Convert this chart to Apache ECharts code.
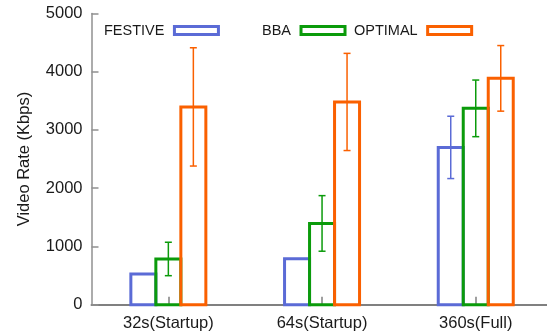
<!DOCTYPE html>
<html><head><meta charset="utf-8">
<script src="https://cdn.jsdelivr.net/npm/echarts@6/dist/echarts.min.js"></script>
<style>html,body{margin:0;padding:0;background:#fff}#c{width:547px;height:332px}</style>
</head><body><div id="c"></div>
<script>
var categories = ['32s(Startup)', '64s(Startup)', '360s(Full)'];
var seriesNames = ['FESTIVE', 'BBA', 'OPTIMAL'];
var festive = [525, 790, 2700];
var bba = [785, 1395, 3370];
var optimal = [3395, 3480, 3885];
var festiveErr = [null, null, 535];
var bbaErr = [287, 477, 486];
var optimalErr = [1015, 834, 563];
var yTicks = [0, 1000, 2000, 3000, 4000, 5000];

var colors = ['#5b6bd6', '#0b9b0b', '#fa6000'];
var values = [festive, bba, optimal];
var errs = [festiveErr, bbaErr, optimalErr];
var BW = 25;
var FONT = '"Liberation Sans", Arial, sans-serif';
var catIdx = categories.map(function (c, k) { return k; });

var chart = echarts.init(document.getElementById('c'), null, {renderer: 'canvas'});
var series = [];
values.forEach(function (vals, i) {
  series.push({
    name: seriesNames[i], type: 'custom', z: 2 + i, silent: true,
    itemStyle: {color: 'rgba(255,255,255,0)', borderColor: colors[i], borderWidth: 3},
    data: vals.map(function (v, k) { return [k, v]; }),
    renderItem: function (params, api) {
      var top = api.coord([api.value(0), api.value(1)]);
      var base = api.coord([api.value(0), 0]);
      var x = top[0] + (i - 1) * BW - BW / 2;
      return {type: 'rect', shape: {x: x, y: top[1], width: BW, height: base[1] - top[1]},
        style: {fill: null, stroke: colors[i], lineWidth: 3}};
    }
  });
});
values.forEach(function (vals, i) {
  var d = [];
  vals.forEach(function (v, k) {
    if (errs[i][k] != null) d.push([k, v - errs[i][k], v + errs[i][k]]);
  });
  series.push({
    type: 'custom', z: 10, silent: true, data: d,
    renderItem: function (params, api) {
      var lo = api.coord([api.value(0), api.value(1)]);
      var hi = api.coord([api.value(0), api.value(2)]);
      var x = lo[0] + (i - 1) * BW;
      var h = 3.5;
      var st = {stroke: colors[i], lineWidth: 1.5, fill: null};
      return {type: 'group', children: [
        {type: 'line', shape: {x1: x, y1: lo[1], x2: x, y2: hi[1]}, style: st},
        {type: 'line', shape: {x1: x - h, y1: lo[1], x2: x + h, y2: lo[1]}, style: st},
        {type: 'line', shape: {x1: x - h, y1: hi[1], x2: x + h, y2: hi[1]}, style: st}
      ]};
    }
  });
});

function mkLegend(name, idx, left) {
  return {
    data: [{name: name, icon: 'rect', itemStyle: {color: 'rgba(255,255,255,0)', borderColor: colors[idx], borderWidth: 3}}],
    left: left, top: 23, padding: 0, align: 'right', itemWidth: 44, itemHeight: 8,
    selectedMode: false,
    textStyle: {fontFamily: FONT, fontSize: 14.5, color: '#1a1a1a', padding: [0, 5, 0, 0]}
  };
}

chart.setOption({
  animation: false,
  backgroundColor: '#fff',
  color: colors,
  legend: [mkLegend('FESTIVE', 0, 104), mkLegend('BBA', 1, 262), mkLegend('OPTIMAL', 2, 354)],
  grid: {left: 91.5, right: 0, top: 13.4, bottom: 27.3, containLabel: false},
  xAxis: {
    type: 'value', min: -0.5, max: 2.4636,
    axisLine: {show: true, onZero: false, lineStyle: {color: '#808080', width: 2}},
    axisTick: {show: true, customValues: catIdx, inside: true, length: 8, lineStyle: {color: '#808080', width: 1.5}},
    axisLabel: {customValues: catIdx, fontFamily: FONT, fontSize: 16.5, color: '#1a1a1a', margin: 10,
      formatter: function (v) { return categories[Math.round(v)]; }},
    splitLine: {show: false}
  },
  yAxis: {
    type: 'value', min: yTicks[0], max: yTicks[yTicks.length - 1], interval: 1000,
    name: 'Video Rate (Kbps)', nameLocation: 'middle', nameGap: 59, nameRotate: 90,
    nameTextStyle: {fontFamily: FONT, fontSize: 16.5, color: '#1a1a1a'},
    axisLine: {show: true, onZero: false, lineStyle: {color: '#909090', width: 1.5}},
    axisTick: {show: true, inside: true, length: 7, lineStyle: {color: '#909090', width: 1.5}},
    axisLabel: {fontFamily: FONT, fontSize: 16.5, color: '#1a1a1a', margin: 9,
      formatter: function (v) { return String(v); }},
    splitLine: {show: false}
  },
  series: series
});
</script></body></html>
